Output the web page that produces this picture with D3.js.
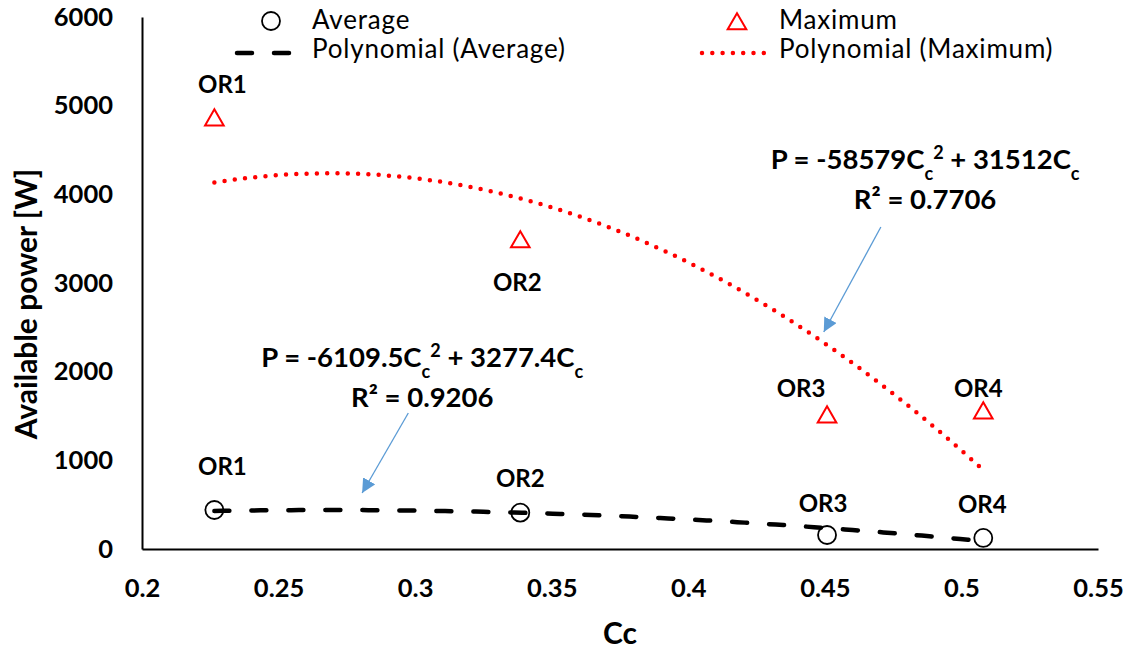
<!DOCTYPE html>
<html>
<head>
<meta charset="utf-8">
<script src="https://cdn.jsdelivr.net/npm/d3@7"></script>
<style>
  body { margin: 0; background: #fff; }
  svg { font-family: Lato, "Open Sans", sans-serif; }
</style>
</head>
<body>
<div id="chart"></div>
<script>
// data
var labels = ["OR1", "OR2", "OR3", "OR4"];
var cc = [0.2265, 0.3385, 0.4508, 0.508];
var average = [440, 410, 158, 125];
var maximum = [4860, 3485, 1511, 1556];
var xTicks = [0.2, 0.25, 0.3, 0.35, 0.4, 0.45, 0.5, 0.55];
var yTicks = [0, 1000, 2000, 3000, 4000, 5000, 6000];
// trendline coefficients as printed on the chart (P = a*Cc^2 + b*Cc)
var avgCoef = [-6109.5, 3277.4];
var maxCoef = [-58579, 31512];
var avgR2 = "0.9206";
var maxR2 = "0.7706";

var width = 1129, height = 652;

var svg = d3.select("#chart")
  .append("svg")
  .attr("width", width)
  .attr("height", height);

// scales
var x = d3.scaleLinear().domain([0.2, 0.55]).range([142, 1098]);
var y = d3.scaleLinear().domain([0, 6000]).range([549, 17]);

// arrow head for the callouts
svg.append("defs").append("marker")
  .attr("id", "head")
  .attr("viewBox", "0 0 10 10")
  .attr("refX", 10)
  .attr("refY", 5)
  .attr("markerWidth", 14)
  .attr("markerHeight", 14)
  .attr("markerUnits", "userSpaceOnUse")
  .attr("orient", "auto")
  .append("path")
  .attr("d", "M0,0 L10,5 L0,10 z")
  .attr("fill", "#5B9BD5");

// axes
svg.append("g")
  .attr("transform", "translate(0," + y(0) + ")")
  .call(d3.axisBottom(x).tickValues(xTicks).tickSize(0).tickSizeOuter(0)
    .tickPadding(30).tickFormat(d3.format("")));
svg.append("g")
  .attr("transform", "translate(" + x(0.2) + ",0)")
  .call(d3.axisLeft(y).tickValues(yTicks).tickSize(0).tickSizeOuter(0)
    .tickPadding(29).tickFormat(d3.format("d")));

svg.selectAll(".domain").attr("stroke", "#000").attr("stroke-width", 2);
svg.selectAll(".tick text")
  .attr("fill", "#000")
  .style("font-family", "Lato, sans-serif")
  .style("font-size", "25.5px")
  .style("font-weight", "bold");

// axis titles
svg.append("text")
  .attr("x", (x(0.2) + x(0.55)) / 2)
  .attr("y", 644)
  .attr("text-anchor", "middle")
  .style("font-size", "30px")
  .style("font-weight", "bold")
  .text("Cc");
svg.append("text")
  .attr("transform", "translate(37,304) rotate(-90)")
  .attr("text-anchor", "middle")
  .style("font-size", "30px")
  .style("font-weight", "bold")
  .text("Available power [W]");

// markers
var tri = d3.symbol().type(d3.symbolTriangle).size(150);

svg.selectAll(".avg")
  .data(cc)
  .enter()
  .append("circle")
  .attr("class", "avg")
  .attr("cx", function(d) { return x(d); })
  .attr("cy", function(d, i) { return y(average[i]); })
  .attr("r", 9)
  .attr("fill", "none")
  .attr("stroke", "#000")
  .attr("stroke-width", 1.8);

svg.selectAll(".max")
  .data(cc)
  .enter()
  .append("path")
  .attr("class", "max")
  .attr("d", tri)
  .attr("transform", function(d, i) {
    return "translate(" + x(d) + "," + (y(maximum[i]) + 2) + ")"; })
  .attr("fill", "none")
  .attr("stroke", "#ff0000")
  .attr("stroke-width", 2);

// trendlines, drawn over the data range from the printed coefficients
function trend(coef) {
  var lo = d3.min(cc), hi = d3.max(cc);
  return d3.range(0, 101).map(function(i) {
    var c = lo + (hi - lo) * i / 100;
    return [c, coef[0] * c * c + coef[1] * c];
  });
}
var line = d3.line()
  .x(function(d) { return x(d[0]); })
  .y(function(d) { return y(d[1]); });

svg.append("path")
  .attr("d", line(trend(avgCoef)))
  .attr("fill", "none")
  .attr("stroke", "#000")
  .attr("stroke-width", 4.5)
  .attr("stroke-linecap", "round")
  .attr("stroke-dasharray", "15,22");

svg.append("path")
  .attr("d", line(trend(maxCoef)))
  .attr("fill", "none")
  .attr("stroke", "#ff0000")
  .attr("stroke-width", 4.5)
  .attr("stroke-linecap", "round")
  .attr("stroke-dasharray", "0,10.3");

// data labels (offsets in px from each point)
var avgOffset = [[8, -35], [0, -26], [-4, -23], [-1, -25]];
var maxOffset = [[8, -25], [-3, 51], [-26, -18], [-5, -14]];

function pointLabels(values, offset) {
  svg.append("g").selectAll("text")
    .data(labels)
    .enter()
    .append("text")
    .attr("x", function(d, i) { return x(cc[i]) + offset[i][0]; })
    .attr("y", function(d, i) { return y(values[i]) + offset[i][1]; })
    .attr("text-anchor", "middle")
    .style("font-size", "24px")
    .style("font-weight", "bold")
    .text(function(d) { return d; });
}
pointLabels(average, avgOffset);
pointLabels(maximum, maxOffset);

// equations with callout arrows
function equation(cx, cy, coef, r2, from, to) {
  var t = svg.append("text")
    .attr("x", x(cx))
    .attr("y", y(cy))
    .attr("text-anchor", "middle")
    .style("font-size", "27.5px")
    .style("font-weight", "bold");
  t.append("tspan").text("P = " + coef[0] + "C");
  t.append("tspan").attr("baseline-shift", "sub").style("font-size", "18px").text("c");
  t.append("tspan").attr("dy", -10).style("font-size", "18px").text("2");
  t.append("tspan").attr("dy", 10).text(" + " + coef[1] + "C");
  t.append("tspan").attr("baseline-shift", "sub").style("font-size", "18px").text("c");

  svg.append("text")
    .attr("x", x(cx))
    .attr("y", y(cy) + 40)
    .attr("text-anchor", "middle")
    .style("font-size", "27.5px")
    .style("font-weight", "bold")
    .text("R² = " + r2);

  svg.append("line")
    .attr("x1", x(from[0])).attr("y1", y(from[1]))
    .attr("x2", x(to[0])).attr("y2", y(to[1]))
    .attr("stroke", "#5B9BD5")
    .attr("stroke-width", 1.3)
    .attr("marker-end", "url(#head)");
}
equation(0.4867, 4290, maxCoef, maxR2, [0.4705, 3631], [0.4496, 2447]);
equation(0.3026, 2050, avgCoef, avgR2, [0.2975, 1534], [0.2806, 632]);

// legend
var legend = svg.append("g");
legend.append("circle")
  .attr("cx", 271).attr("cy", 21).attr("r", 9)
  .attr("fill", "none").attr("stroke", "#000").attr("stroke-width", 1.8);
legend.append("line")
  .attr("x1", 237).attr("x2", 293).attr("y1", 53).attr("y2", 53)
  .attr("stroke", "#000").attr("stroke-width", 4.5)
  .attr("stroke-linecap", "round").attr("stroke-dasharray", "15,22");
legend.append("path")
  .attr("d", tri)
  .attr("transform", "translate(737,24)")
  .attr("fill", "none").attr("stroke", "#ff0000").attr("stroke-width", 2);
legend.append("line")
  .attr("x1", 702).attr("x2", 770).attr("y1", 53).attr("y2", 53)
  .attr("stroke", "#ff0000").attr("stroke-width", 4.5)
  .attr("stroke-linecap", "round").attr("stroke-dasharray", "0,10.3");

var legendText = [["Average", 312, 29], ["Polynomial (Average)", 312, 58],
  ["Maximum", 779, 29], ["Polynomial (Maximum)", 779, 58]];
legend.selectAll("text")
  .data(legendText)
  .enter()
  .append("text")
  .attr("x", function(d) { return d[1]; })
  .attr("y", function(d) { return d[2]; })
  .style("font-size", "26px")
  .style("letter-spacing", "0.8px")
  .text(function(d) { return d[0]; });
</script>
</body>
</html>
